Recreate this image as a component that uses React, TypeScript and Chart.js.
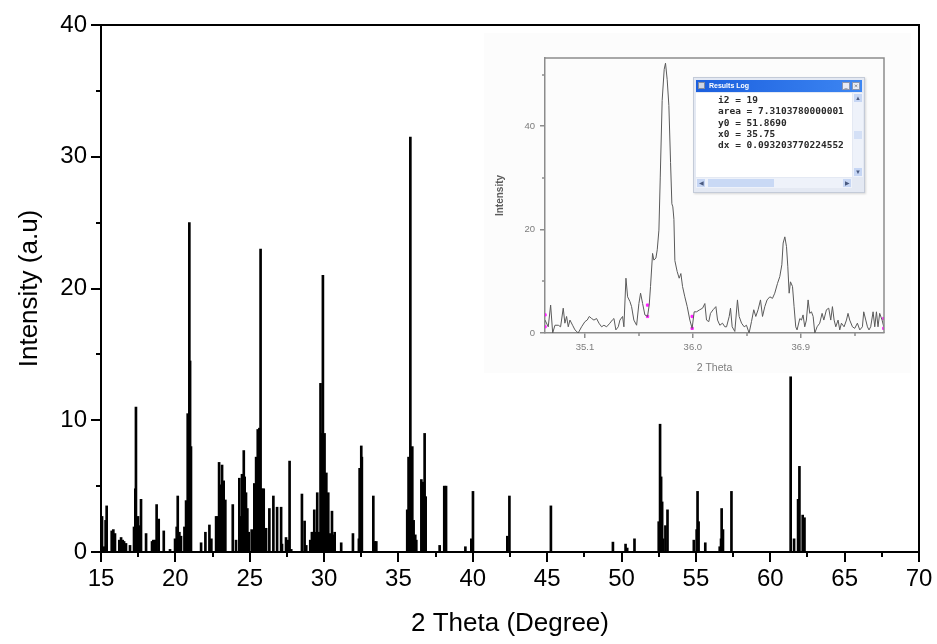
import React, { useEffect, useRef } from 'react';
import { Chart, registerables } from 'chart.js';
Chart.register(...registerables);

// ---- main pattern (stick diagram) ----
const peakTheta = [
  15.07, 15.2, 15.31, 15.38, 15.72, 15.83, 15.94, 16.23, 16.35, 16.46, 16.55, 16.68, 16.95,
  17.22, 17.31, 17.35, 17.42, 17.49, 17.58, 17.69, 18.03, 18.43, 18.52, 18.63, 18.74, 18.88,
  19.22, 19.64, 19.98, 20.09, 20.16, 20.27, 20.38, 20.61, 20.72, 20.83, 20.94, 20.99, 21.05,
  21.73, 22.02, 22.29, 22.42, 22.74, 22.85, 22.94, 23.03, 23.14, 23.25, 23.36, 23.86, 24.08,
  24.3, 24.42, 24.48, 24.6, 24.66, 24.75, 24.84, 24.93, 25.13, 25.31, 25.43, 25.54, 25.65,
  25.73, 25.83, 25.94, 26.1, 26.32, 26.59, 26.84, 27.11, 27.17, 27.44, 27.56, 27.68, 27.79,
  28.51, 28.69, 28.8, 29.07, 29.18, 29.25, 29.34, 29.43, 29.54, 29.65, 29.76, 29.85, 29.92,
  30.03, 30.15, 30.28, 30.41, 30.53, 30.59, 30.71, 31.15, 31.94, 32.34, 32.39, 32.5, 32.54,
  33.31, 33.4, 33.51, 35.59, 35.68, 35.8, 35.93, 36.02, 36.13, 36.2, 36.54, 36.63, 36.69,
  36.76, 36.83, 37.77, 38.08, 38.2, 39.5, 39.9, 40.01, 42.32, 42.46, 45.25, 49.42, 50.27,
  50.38, 50.87, 52.5, 52.59, 52.66, 52.73, 52.79, 52.95, 53.09, 54.86, 55.05, 55.11, 55.18,
  55.63, 56.6, 56.69, 56.73, 56.82, 57.39, 61.37, 61.6, 61.87, 61.96, 62.18, 62.3,
];
const peakIntensity = [
  2.7, 0.4, 2.4, 3.5, 1.6, 1.7, 1.4, 0.9, 1.1, 0.9, 0.8, 0.65, 0.5,
  1.9, 4.8, 11.0, 2.0, 2.7, 2.0, 4.0, 1.4, 0.8, 0.9, 0.9, 3.6, 2.5,
  1.6, 0.2, 1.0, 1.9, 4.25, 1.5, 1.2, 1.9, 3.9, 10.5, 25.0, 14.5, 8.0,
  0.7, 1.5, 2.05, 1.0, 2.7, 2.7, 6.8, 5.1, 6.6, 5.4, 3.95, 3.6, 0.9,
  5.6, 2.7, 5.9, 7.7, 5.7, 4.5, 3.3, 1.5, 1.7, 5.2, 7.2, 9.3, 9.4,
  23.0, 4.8, 4.8, 1.8, 3.3, 4.25, 3.4, 3.4, 0.6, 1.1, 0.9, 6.9, 0.2,
  4.4, 2.35, 0.5, 0.9, 1.5, 1.5, 3.2, 1.5, 4.5, 1.5, 12.8, 9.0, 21.0,
  9.0, 6.0, 4.5, 1.4, 3.1, 1.3, 1.5, 0.7, 1.4, 1.0, 6.35, 8.05, 7.2,
  4.25, 0.8, 0.8, 3.2, 7.2, 31.5, 8.0, 2.4, 1.3, 0.9, 5.5, 5.3, 1.8,
  9.0, 4.2, 0.5, 5.0, 5.0, 0.4, 1.0, 4.6, 1.2, 4.25, 3.5, 0.75, 0.6,
  0.3, 1.0, 2.3, 9.7, 5.7, 3.8, 1.0, 2.0, 3.2, 0.9, 1.7, 4.6, 2.3,
  0.7, 0.4, 1.0, 3.3, 1.7, 4.6, 13.3, 1.0, 4.0, 6.5, 2.8, 2.6,
];
const xMinorTicks = [17.5, 22.5, 27.5, 32.5, 37.5, 42.5, 47.5, 52.5, 57.5, 62.5, 67.5];
const yMinorTicks = [5, 15, 25, 35];

// ---- inset (zoomed scan around 36 deg) ----
const insetTheta = [
  34.767, 34.794, 34.814, 34.831, 34.85, 34.878, 34.897, 34.919, 34.933, 34.947, 34.961, 34.975,
  34.997, 35.017, 35.044, 35.072, 35.1, 35.119, 35.136, 35.156, 35.175, 35.197, 35.217, 35.239,
  35.258, 35.281, 35.308, 35.328, 35.342, 35.358, 35.378, 35.392, 35.414, 35.425, 35.442, 35.456,
  35.475, 35.489, 35.508, 35.531, 35.55, 35.564, 35.581, 35.6, 35.622, 35.636, 35.647, 35.664,
  35.675, 35.692, 35.703, 35.717, 35.728, 35.744, 35.761, 35.772, 35.786, 35.8, 35.814, 35.825,
  35.833, 35.842, 35.85, 35.869, 35.886, 35.9, 35.914, 35.933, 35.953, 35.975, 35.994, 36.011,
  36.031, 36.058, 36.081, 36.1, 36.114, 36.133, 36.147, 36.169, 36.192, 36.206, 36.225, 36.247,
  36.267, 36.281, 36.303, 36.314, 36.328, 36.35, 36.372, 36.386, 36.406, 36.428, 36.447, 36.469,
  36.489, 36.508, 36.525, 36.544, 36.564, 36.581, 36.6, 36.619, 36.642, 36.664, 36.683, 36.706,
  36.725, 36.742, 36.753, 36.767, 36.781, 36.792, 36.803, 36.814, 36.831, 36.844, 36.858, 36.869,
  36.892, 36.906, 36.919, 36.933, 36.947, 36.961, 36.975, 36.989, 37.003, 37.017, 37.036, 37.058,
  37.078, 37.092, 37.114, 37.133, 37.15, 37.164, 37.178, 37.192, 37.211, 37.225, 37.239, 37.261,
  37.281, 37.294, 37.308, 37.331, 37.35, 37.372, 37.392, 37.414, 37.425, 37.442, 37.456, 37.469,
  37.483, 37.503, 37.517, 37.531, 37.544, 37.558, 37.578, 37.592,
];
const insetIntensity = [
  2.5, 1.2, 5.4, 0, 1.5, 1.5, 1.2, 4.8, 1.9, 3.2, 1.2, 2.5,
  1.5, 0.6, 0, 1.2, 2.2, 2.5, 3.2, 2.8, 2.5, 2.8, 1.9, 1.2,
  1.5, 1.2, 1.9, 2.5, 2.8, 0.6, 1.2, 2.5, 3.2, 1.2, 10.6, 7.0,
  6.1, 5.1, 2.5, 1.5, 5.7, 7.7, 5.7, 3.5, 3.2, 5.4, 9.0, 15.4,
  14.1, 14.5, 16.1, 19.9, 30, 45, 51, 52.2, 49, 44, 33, 25,
  24.4, 22, 14, 11.9, 10.6, 11.5, 9.0, 7.0, 5.1, 2.5, 0.9, 4.1,
  4.1, 4.5, 4.8, 5.7, 2.5, 2.2, 3.8, 4.5, 5.1, 2.5, 1.5, 1.9,
  1.2, 1.2, 3.2, 4.8, 1.2, 0.3, 6.4, 3.2, 1.9, 1.2, 1.5, 0,
  2.2, 4.5, 3.2, 4.5, 6.4, 3.2, 5.1, 6.4, 7.0, 6.7, 7.7, 9.6,
  10.9, 13.2, 17.4, 18.6, 16.7, 12.8, 7.7, 9.9, 9.0, 5.1, 1.2, 0.6,
  2.8, 2.5, 3.5, 1.2, 2.5, 6.4, 3.8, 4.1, 3.2, 0, 1.2, 1.9,
  3.8, 2.5, 4.5, 4.8, 2.5, 5.1, 2.5, 1.2, 2.5, 0.6, 1.9, 1.2,
  2.5, 3.8, 2.5, 1.2, 0.9, 1.9, 0.6, 1.2, 4.1, 2.5, 1.2, 0.6,
  1.2, 4.1, 1.2, 4.1, 1.2, 3.8, 2.5, 1.2,
];
const insetMarkerTheta = [34.767, 34.767, 35.622, 35.622, 35.994, 35.994, 37.592, 37.592];
const insetMarkerIntensity = [3.5, 1.2, 5.4, 3.2, 3.2, 0.9, 2.8, 0.9];
const insetXTicks = [35.1, 36.0, 36.9];
const insetXMinor = [35.55, 36.45, 37.35];
const insetYTicks = [0, 20, 40];
const insetYMinor = [10, 30, 50];
const resultsLog = [
  'i2 = 19',
  'area = 7.3103780000001',
  'y0 = 51.8690',
  'x0 = 35.75',
  'dx = 0.093203770224552',
];

const frameAndMinor = {
  id: 'frameAndMinor',
  afterDraw(chart: any, _args: any, o: any) {
    const { ctx, chartArea: a } = chart;
    const xs = chart.scales.x;
    const ys = chart.scales.y;
    ctx.save();
    ctx.strokeStyle = o.color;
    ctx.lineWidth = o.width;
    ctx.beginPath();
    ctx.moveTo(a.left, a.top);
    ctx.lineTo(a.right, a.top);
    ctx.lineTo(a.right, a.bottom);
    for (const v of o.xMinor) {
      const p = Math.round(xs.getPixelForValue(v));
      ctx.moveTo(p, a.bottom);
      ctx.lineTo(p, a.bottom + o.minorLen);
    }
    for (const v of o.yMinor) {
      const p = Math.round(ys.getPixelForValue(v));
      ctx.moveTo(a.left, p);
      ctx.lineTo(a.left - o.minorLen, p);
    }
    ctx.stroke();
    ctx.restore();
  },
};

export default function App() {
  const mainRef = useRef<HTMLCanvasElement>(null);
  const insetRef = useRef<HTMLCanvasElement>(null);

  useEffect(() => {
    document.body.style.margin = '0';
    const font = 'Liberation Sans, Arial, sans-serif';
    const main = new Chart(mainRef.current as HTMLCanvasElement, {
      type: 'bar',
      data: {
        datasets: [
          {
            data: peakTheta.map((x, i) => ({ x, y: peakIntensity[i] })),
            backgroundColor: '#000',
            borderWidth: 0,
            barThickness: 2,
          } as any,
        ],
      },
      options: {
        responsive: false,
        animation: false,
        events: [],
        layout: { padding: { left: 0, top: 25, right: 18, bottom: 0 } },
        plugins: {
          legend: { display: false },
          tooltip: { enabled: false },
          frameAndMinor: { color: '#000', width: 2, minorLen: 5, xMinor: xMinorTicks, yMinor: yMinorTicks },
        } as any,
        scales: {
          x: {
            type: 'linear',
            min: 15,
            max: 70,
            offset: false,
            ticks: { stepSize: 5, color: '#000', font: { family: font, size: 24 }, padding: 3, maxRotation: 0 },
            grid: { display: true, drawOnChartArea: false, drawTicks: true, tickLength: 10, color: '#000', lineWidth: 2, offset: false },
            border: { display: true, color: '#000', width: 2 },
            title: { display: true, text: '2 Theta (Degree)', color: '#000', font: { family: font, size: 26 }, padding: { top: 0, bottom: 5 } },
            afterFit: (s: any) => { s.height = 92; },
          },
          y: {
            type: 'linear',
            min: 0,
            max: 40,
            ticks: { stepSize: 10, color: '#000', font: { family: font, size: 24 }, padding: 4 },
            grid: { display: true, drawOnChartArea: false, drawTicks: true, tickLength: 10, color: '#000', lineWidth: 2 },
            border: { display: true, color: '#000', width: 2 },
            title: { display: true, text: 'Intensity (a.u)', color: '#000', font: { family: font, size: 26 }, padding: { top: 14, bottom: 0 } },
            afterFit: (s: any) => { s.width = 101; },
          },
        },
      } as any,
      plugins: [frameAndMinor as any],
    });

    const insetFont = 'Liberation Sans, Arial, sans-serif';
    const inset = new Chart(insetRef.current as HTMLCanvasElement, {
      type: 'line',
      data: {
        datasets: [
          {
            data: insetTheta.map((x, i) => ({ x, y: insetIntensity[i] })),
            borderColor: '#5a5a5a',
            borderWidth: 1,
            pointRadius: 0,
            tension: 0,
            fill: false,
          },
          {
            type: 'scatter',
            data: insetMarkerTheta.map((x, i) => ({ x, y: insetMarkerIntensity[i] })),
            backgroundColor: '#ff22ff',
            borderColor: '#ff22ff',
            pointStyle: 'rect',
            pointRadius: 1.6,
            showLine: false,
          } as any,
        ],
      },
      options: {
        responsive: false,
        animation: false,
        events: [],
        layout: { padding: { left: 0, top: 28, right: 27, bottom: 0 } },
        plugins: {
          legend: { display: false },
          tooltip: { enabled: false },
          frameAndMinor: { color: '#8c8c8c', width: 1.5, minorLen: 3, xMinor: insetXMinor, yMinor: insetYMinor },
        } as any,
        scales: {
          x: {
            type: 'linear',
            min: 34.767,
            max: 37.594,
            afterBuildTicks: (s: any) => { s.ticks = insetXTicks.map((v) => ({ value: v })); },
            ticks: { color: '#7c7c7c', font: { family: insetFont, size: 9.5 }, padding: 4, maxRotation: 0, callback: (v: any) => Number(v).toFixed(1) },
            grid: { display: true, drawOnChartArea: false, drawTicks: true, tickLength: 5, color: '#8c8c8c', lineWidth: 1.5 },
            border: { display: true, color: '#8c8c8c', width: 1.5 },
            title: { display: true, text: '2 Theta', color: '#7c7c7c', font: { family: insetFont, size: 10.5 }, padding: { top: 0, bottom: 6 } },
            afterFit: (s: any) => { s.height = 47; },
          },
          y: {
            type: 'linear',
            min: 0,
            max: 53.2,
            afterBuildTicks: (s: any) => { s.ticks = insetYTicks.map((v) => ({ value: v })); },
            ticks: { color: '#7c7c7c', font: { family: insetFont, size: 9.5 }, padding: 5 },
            grid: { display: true, drawOnChartArea: false, drawTicks: true, tickLength: 5, color: '#8c8c8c', lineWidth: 1.5 },
            border: { display: true, color: '#8c8c8c', width: 1.5 },
            title: { display: true, text: 'Intensity', color: '#5c5c5c', font: { family: insetFont, size: 10, weight: 'bold' }, padding: { top: 12, bottom: 0 } },
            afterFit: (s: any) => { s.width = 63; },
          },
        },
      } as any,
      plugins: [frameAndMinor as any],
    });

    return () => {
      main.destroy();
      inset.destroy();
    };
  }, []);

  const mono = 'DejaVu Sans Mono, Liberation Mono, monospace';
  return (
    <div style={{ position: 'fixed', left: 0, top: 0, width: 937, height: 644, background: '#fff', overflow: 'hidden' }}>
      <canvas ref={mainRef} width={937} height={644} style={{ position: 'absolute', left: 0, top: 0, width: 937, height: 644 }} />
      <div style={{ position: 'absolute', left: 484, top: 33, width: 427, height: 340, background: '#fcfcfc' }} />
      <canvas ref={insetRef} width={429} height={350} style={{ position: 'absolute', left: 482, top: 30, width: 429, height: 350 }} />
      <div
        style={{
          position: 'absolute', left: 693, top: 77, width: 172, height: 116, boxSizing: 'border-box',
          background: '#e4e9f3', border: '1px solid #c4cbd8', boxShadow: '1px 1px 2px rgba(0,0,0,0.15)',
        }}
      >
        <div
          style={{
            position: 'absolute', left: 2, top: 2, width: 166, height: 12,
            background: 'linear-gradient(to right, #1b5fde, #3d86f2)',
          }}
        >
          <div style={{ position: 'absolute', left: 2, top: 2, width: 7, height: 7, background: '#cfd6e4', border: '1px solid #7f8aa0', boxSizing: 'border-box' }} />
          <div style={{ position: 'absolute', left: 13, top: 0, lineHeight: '12px', fontSize: 7, fontWeight: 'bold', color: '#fff', fontFamily: 'Liberation Sans, Arial, sans-serif', whiteSpace: 'nowrap' }}>Results Log</div>
          <div style={{ position: 'absolute', right: 12, top: 2, width: 8, height: 8, background: '#e8ecf5', border: '1px solid #8a96b0', boxSizing: 'border-box', fontSize: 6, lineHeight: '6px', textAlign: 'center', color: '#333' }}>_</div>
          <div style={{ position: 'absolute', right: 2, top: 2, width: 8, height: 8, background: '#e8ecf5', border: '1px solid #8a96b0', boxSizing: 'border-box', fontSize: 7, lineHeight: '6px', textAlign: 'center', color: '#333' }}>×</div>
        </div>
        <div style={{ position: 'absolute', left: 2, top: 15, width: 156, height: 84, background: '#fff' }} />
        {resultsLog.map((t, i) => (
          <div
            key={i}
            style={{
              position: 'absolute', left: 24, top: 16 + i * 11.3, fontFamily: mono, fontWeight: 'bold', fontSize: 9.5,
              lineHeight: '11px', color: '#2a2a2a', whiteSpace: 'pre',
            }}
          >
            {t}
          </div>
        ))}
        <div style={{ position: 'absolute', left: 159, top: 15, width: 10, height: 84, background: '#eef2fa' }}>
          <div style={{ position: 'absolute', left: 1, top: 1, width: 8, height: 8, background: '#c6d6f4', fontSize: 6, lineHeight: '8px', textAlign: 'center', color: '#4a5a80' }}>▲</div>
          <div style={{ position: 'absolute', left: 1, top: 38, width: 8, height: 8, background: '#d4e0f6' }} />
          <div style={{ position: 'absolute', left: 1, bottom: 1, width: 8, height: 8, background: '#c6d6f4', fontSize: 6, lineHeight: '8px', textAlign: 'center', color: '#4a5a80' }}>▼</div>
        </div>
        <div style={{ position: 'absolute', left: 2, top: 100, width: 156, height: 10, background: '#eef2fa' }}>
          <div style={{ position: 'absolute', left: 1, top: 1, width: 8, height: 8, background: '#c6d6f4', fontSize: 6, lineHeight: '8px', textAlign: 'center', color: '#4a5a80' }}>◀</div>
          <div style={{ position: 'absolute', left: 12, top: 1, width: 66, height: 8, background: '#c9d9f5' }} />
          <div style={{ position: 'absolute', right: 1, top: 1, width: 8, height: 8, background: '#c6d6f4', fontSize: 6, lineHeight: '8px', textAlign: 'center', color: '#4a5a80' }}>▶</div>
        </div>
      </div>
    </div>
  );
}
